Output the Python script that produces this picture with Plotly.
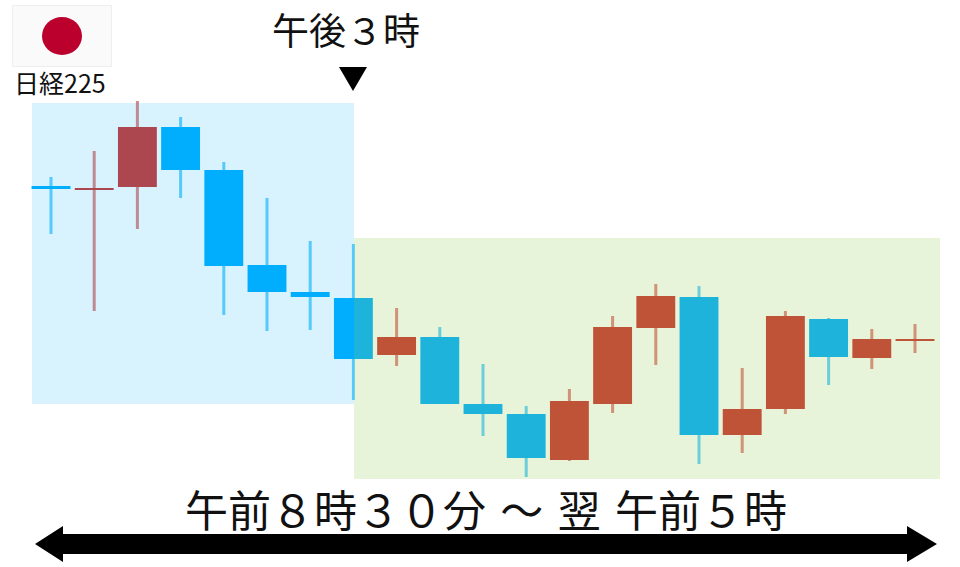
import plotly.graph_objects as go

W, H = 960, 567
CJK = "Noto Sans CJK JP"

# prices are read as height above the bottom of the picture
opens = [381, 377, 380, 440, 397, 302, 275, 269, 212, 230, 163, 153, 107, 163, 239, 270, 132, 158, 248, 209, 226]
closes = [378, 379, 440, 397, 301, 275, 270, 208, 230, 163, 153, 109, 166, 240, 271, 132, 158, 251, 210, 228, 228]
highs = [390, 416, 466, 450, 405, 369, 326, 323, 259, 240, 203, 161, 178, 251, 283, 281, 199, 256, 249, 238, 243]
lows = [333, 256, 338, 369, 252, 236, 237, 167, 201, 163, 131, 90, 106, 154, 202, 103, 114, 153, 182, 198, 214]

BLUE = "#00aeff"
RED = "#cb3432"

x_idx = list(range(len(opens)))
body_colors = [BLUE if c < o else RED for o, c in zip(opens, closes)]
bases = [min(o, c) for o, c in zip(opens, closes)]
heights = [abs(o - c) for o, c in zip(opens, closes)]
wick_heights = [h - l for h, l in zip(highs, lows)]


def px(x):
    return x / W


def py(y):
    return 1 - y / H


def poly(points, fill):
    d = "M" + " L".join(f"{px(x):.5f},{py(y):.5f}" for x, y in points) + " Z"
    return dict(type="path", xref="paper", yref="paper", path=d,
                fillcolor=fill, line=dict(width=0), layer="above")


def box(x0, y0, x1, y1, fill, line=None):
    return dict(type="rect", xref="paper", yref="paper",
                x0=px(x0), x1=px(x1), y0=py(y0), y1=py(y1), fillcolor=fill,
                line=dict(width=1, color=line) if line else dict(width=0), layer="above")


fig = go.Figure()

# wicks first, then the bodies
fig.add_trace(go.Bar(x=x_idx, y=wick_heights, base=lows, width=0.07,
                     marker=dict(color=body_colors, opacity=0.6, line=dict(width=0))))
fig.add_trace(go.Bar(x=x_idx, y=heights, base=bases, width=0.9,
                     marker=dict(color=body_colors, line=dict(width=0))))

shapes = [
    # session overlays sit on top of the candles
    box(32, 103, 354, 404, "rgba(0,174,240,0.153)"),
    box(354, 238, 940, 479, "rgba(144,202,77,0.208)"),
    # flag
    box(12.5, 5.5, 111.5, 66.5, "#fafafa", "#eeeeee"),
    dict(type="circle", xref="paper", yref="paper", x0=px(42), x1=px(82), y0=py(17), y1=py(55),
         fillcolor="#bc002d", line=dict(width=0), layer="above"),
    # 3pm marker
    poly([(339, 67), (367, 67), (353, 91)], "black"),
    # range arrow
    poly([(35, 544), (63, 526), (63, 534), (907, 534), (907, 526), (937, 544),
          (907, 562), (907, 554), (63, 554), (63, 562)], "black"),
]

annotations = [
    dict(text="午後３時", x=px(346), y=py(29), size=37),
    dict(text="日経225", x=px(60), y=py(82), size=25),
    dict(text="午前８時３０分\u2004～\u2004翌\u2004午前５時", x=px(486.5), y=py(508), size=43),
]

fig.update_layout(
    width=W, height=H,
    margin=dict(l=0, r=0, t=0, b=0),
    paper_bgcolor="white", plot_bgcolor="white",
    barmode="overlay", showlegend=False,
    shapes=shapes,
    annotations=[dict(text=a["text"], x=a["x"], y=a["y"], xref="paper", yref="paper",
                      xanchor="center", yanchor="middle", showarrow=False,
                      font=dict(family=CJK, size=a["size"], color="#111111")) for a in annotations],
    xaxis=dict(range=[-51 / 43.2, (W - 51) / 43.2], visible=False),
    yaxis=dict(range=[0, H], visible=False),
)

fig.write_html("out.html", config={"displayModeBar": False},
               post_script="document.body.style.margin='0';")
